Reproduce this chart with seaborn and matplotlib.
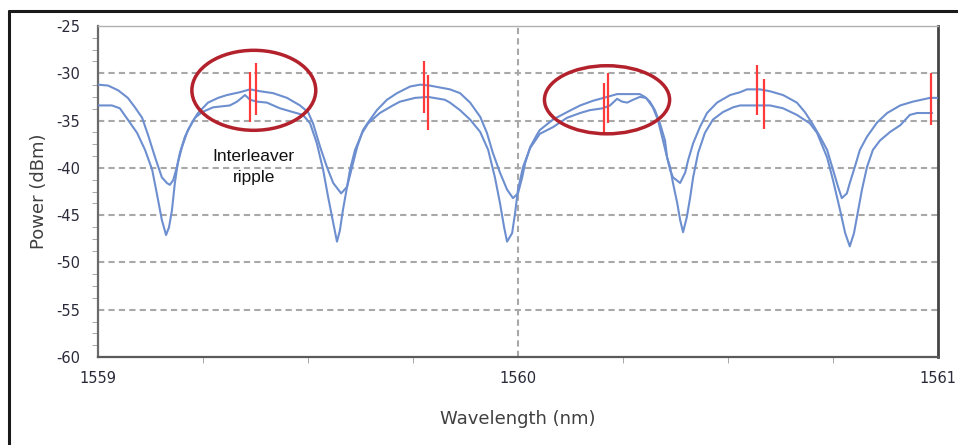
import seaborn as sns
import matplotlib.pyplot as plt
import pandas as pd
from matplotlib.patches import Ellipse
from matplotlib.lines import Line2D
from matplotlib.ticker import MultipleLocator

# upper trace (higher plateau, shallow dips)
upper_wl = [1559.000, 1559.024, 1559.048, 1559.071, 1559.088, 1559.105, 1559.119, 1559.136,
            1559.152, 1559.164, 1559.171, 1559.179, 1559.188, 1559.195, 1559.207, 1559.224,
            1559.238, 1559.262, 1559.286, 1559.307, 1559.338, 1559.362, 1559.386, 1559.417,
            1559.450, 1559.481, 1559.500, 1559.512, 1559.529, 1559.545, 1559.560, 1559.579,
            1559.593, 1559.605, 1559.617, 1559.631, 1559.643, 1559.664, 1559.688, 1559.712,
            1559.743, 1559.767, 1559.790, 1559.814, 1559.838, 1559.862, 1559.886, 1559.910,
            1559.926, 1559.940, 1559.957, 1559.974, 1559.988, 1560.000, 1560.010, 1560.017,
            1560.029, 1560.045, 1560.052, 1560.083, 1560.117, 1560.148, 1560.179, 1560.212,
            1560.236, 1560.267, 1560.290, 1560.302, 1560.314, 1560.326, 1560.338, 1560.350,
            1560.355, 1560.362, 1560.369, 1560.386, 1560.398, 1560.405, 1560.417, 1560.433,
            1560.450, 1560.474, 1560.505, 1560.529, 1560.545, 1560.576, 1560.600, 1560.631,
            1560.664, 1560.683, 1560.702, 1560.719, 1560.736, 1560.750, 1560.762, 1560.771,
            1560.783, 1560.790, 1560.802, 1560.814, 1560.831, 1560.855, 1560.879, 1560.910,
            1560.940, 1560.981, 1560.998]
upper_dbm = [-31.2, -31.3, -31.8, -32.6, -33.6, -34.7, -36.5, -38.9,
             -41.0, -41.6, -41.8, -41.3, -39.9, -38.4, -36.7, -35.2,
             -34.2, -33.1, -32.6, -32.3, -32.0, -31.7, -31.9, -32.1,
             -32.6, -33.4, -34.1, -35.3, -37.8, -39.9, -41.6, -42.7,
             -42.0, -39.9, -37.8, -36.0, -35.2, -33.9, -32.8, -32.1,
             -31.4, -31.2, -31.3, -31.5, -31.7, -32.1, -33.1, -34.6,
             -36.3, -38.4, -40.5, -42.3, -43.2, -42.7, -41.0, -39.5,
             -37.8, -36.5, -36.0, -34.9, -34.1, -33.4, -32.9, -32.5,
             -32.2, -32.2, -32.2, -32.5, -33.0, -33.9, -35.3, -37.1,
             -38.9, -40.2, -41.0, -41.6, -40.5, -39.2, -37.4, -35.7,
             -34.2, -33.1, -32.3, -32.0, -31.7, -31.7, -31.9, -32.3,
             -33.1, -34.1, -35.4, -36.7, -38.1, -40.2, -42.0, -43.2,
             -42.7, -41.6, -39.9, -38.1, -36.7, -35.2, -34.2, -33.4,
             -33.0, -32.6, -32.6]

# lower trace (lower plateau, deep dips)
lower_wl = [1559.000, 1559.033, 1559.052, 1559.071, 1559.093, 1559.112, 1559.129, 1559.140,
            1559.152, 1559.162, 1559.169, 1559.176, 1559.183, 1559.190, 1559.200, 1559.214,
            1559.231, 1559.248, 1559.274, 1559.314, 1559.331, 1559.350, 1559.362, 1559.379,
            1559.402, 1559.433, 1559.464, 1559.488, 1559.505, 1559.521, 1559.536, 1559.548,
            1559.560, 1559.569, 1559.576, 1559.583, 1559.593, 1559.600, 1559.612, 1559.629,
            1559.643, 1559.671, 1559.702, 1559.719, 1559.755, 1559.786, 1559.826, 1559.838,
            1559.862, 1559.886, 1559.910, 1559.929, 1559.945, 1559.957, 1559.967, 1559.974,
            1559.986, 1559.993, 1560.000, 1560.012, 1560.029, 1560.052, 1560.083, 1560.117,
            1560.148, 1560.171, 1560.202, 1560.219, 1560.236, 1560.248, 1560.260, 1560.274,
            1560.290, 1560.305, 1560.321, 1560.333, 1560.343, 1560.355, 1560.362, 1560.369,
            1560.379, 1560.386, 1560.393, 1560.402, 1560.410, 1560.417, 1560.429, 1560.445,
            1560.464, 1560.488, 1560.512, 1560.529, 1560.560, 1560.600, 1560.631, 1560.664,
            1560.695, 1560.712, 1560.736, 1560.750, 1560.767, 1560.779, 1560.790, 1560.800,
            1560.807, 1560.819, 1560.831, 1560.845, 1560.862, 1560.886, 1560.910, 1560.933,
            1560.950, 1560.986]
lower_dbm = [-33.4, -33.4, -33.7, -34.9, -36.3, -38.1, -40.2, -42.7,
             -45.5, -47.1, -46.3, -44.5, -41.6, -39.5, -37.8, -36.0,
             -34.7, -34.1, -33.6, -33.4, -33.0, -32.3, -32.8, -33.0,
             -33.1, -33.7, -34.1, -34.4, -35.3, -37.4, -40.2, -43.1,
             -45.8, -47.8, -46.6, -44.5, -42.0, -40.2, -38.1, -36.3,
             -35.3, -34.2, -33.4, -33.0, -32.6, -32.5, -32.8, -33.1,
             -33.9, -34.9, -36.2, -38.1, -41.0, -43.7, -46.3, -47.8,
             -46.9, -44.8, -42.3, -39.9, -37.9, -36.4, -35.7, -34.7,
             -34.2, -33.9, -33.7, -33.4, -32.7, -33.0, -33.1, -32.8,
             -32.5, -32.6, -33.6, -34.9, -36.7, -38.9, -39.9, -41.6,
             -43.7, -45.5, -46.8, -45.2, -43.1, -41.0, -38.4, -36.3,
             -34.9, -34.1, -33.6, -33.4, -33.4, -33.4, -33.7, -34.4,
             -35.3, -36.3, -38.9, -41.3, -44.5, -46.9, -48.3, -46.9,
             -45.2, -42.3, -39.9, -38.1, -37.1, -36.2, -35.5, -34.4,
             -34.2, -34.2]

# red marker lines: wavelength, bottom, top
marker_wl = [1559.362, 1559.376, 1559.776, 1559.786, 1560.205, 1560.214, 1560.569, 1560.586, 1560.983]
marker_lo = [-35.2, -34.4, -34.2, -36.0, -36.3, -35.3, -34.4, -35.9, -35.5]
marker_hi = [-29.9, -28.9, -28.7, -30.2, -31.0, -30.0, -29.1, -30.6, -30.0]

# ellipses: centre wl, centre dBm, width nm, height dB
ell_wl = [1559.371, 1560.212]
ell_db = [-31.8, -32.8]
ell_w = [0.295, 0.298]
ell_h = [8.46, 7.2]

blue = '#6d8fcf'

sns.set_style("white")
plt.rcParams['font.family'] = ['DejaVu Sans']

fig = plt.figure(figsize=(9.58, 4.45), dpi=100)
ax = fig.add_axes([98/958, 1 - 357/445, 840/958, 331/445])

df_u = pd.DataFrame({'wl': upper_wl, 'p': upper_dbm})
df_l = pd.DataFrame({'wl': lower_wl, 'p': lower_dbm})
sns.lineplot(data=df_u, x='wl', y='p', ax=ax, color=blue, lw=1.5, sort=False, estimator=None, zorder=3)
sns.lineplot(data=df_l, x='wl', y='p', ax=ax, color=blue, lw=1.5, sort=False, estimator=None, zorder=3)

ax.vlines(marker_wl, marker_lo, marker_hi, colors='#ff3a3a', lw=1.6, zorder=4)

for cx, cy, w, h in zip(ell_wl, ell_db, ell_w, ell_h):
    ax.add_patch(Ellipse((cx, cy), w, h, fill=False, ec='#b3222c', lw=2.5, zorder=5))

ax.text(1559.371, -39.9, 'Interleaver\nripple', ha='center', va='center', fontsize=12.5,
        family=['Liberation Sans', 'DejaVu Sans'], color='#111111', linespacing=1.5, zorder=6)

ax.set_xlim(1559, 1561)
ax.set_ylim(-60, -25)
ax.set_xticks([1559, 1560, 1561])
ax.set_xticklabels(['1559', '1560', '1561'])
ax.set_yticks([-25, -30, -35, -40, -45, -50, -55, -60])
ax.set_yticklabels(['-25', '-30', '-35', '-40', '-45', '-50', '-55', '-60'])
ax.xaxis.set_minor_locator(MultipleLocator(0.25))
ax.yaxis.set_minor_locator(MultipleLocator(1.25))

ax.tick_params(axis='both', which='major', labelsize=10.5, labelcolor='#2a2a3a', color='#888888',
               direction='out', width=1)
ax.tick_params(axis='y', which='major', length=8, pad=5)
ax.tick_params(axis='y', which='minor', length=4, color='#999999', direction='out', left=True)
ax.tick_params(axis='x', which='major', length=5, pad=5)
ax.tick_params(axis='x', which='minor', length=4, color='#999999', direction='out', bottom=True)

for v in [-30, -35, -40, -45, -50, -55]:
    ax.axhline(v, color='#a8a8a8', lw=1.5, ls=(0, (3, 2)), zorder=1)
ax.axvline(1560, color='#a8a8a8', lw=1.5, ls=(0, (3, 2)), zorder=1)

ax.spines['top'].set_color('#b0b0b0')
ax.spines['top'].set_linewidth(1)
ax.spines['right'].set_color('#444444')
ax.spines['right'].set_linewidth(2)
ax.spines['left'].set_color('#6a6a6a')
ax.spines['left'].set_linewidth(1.6)
ax.spines['bottom'].set_color('#5a5a5a')
ax.spines['bottom'].set_linewidth(1.6)

ax.set_xlabel('Wavelength (nm)', fontsize=13, color='#404040', labelpad=17)
ax.set_ylabel('Power (dBm)', fontsize=13, color='#404040', labelpad=6)

# outer frame (left and top edges)
fig.add_artist(Line2D([9/958, 9/958], [0, 1 - 11/445], color='#1a1a1a', lw=2.2))
fig.add_artist(Line2D([9/958, 1], [1 - 11/445, 1 - 11/445], color='#1a1a1a', lw=2.2))

fig.savefig('out.png', dpi=100)
